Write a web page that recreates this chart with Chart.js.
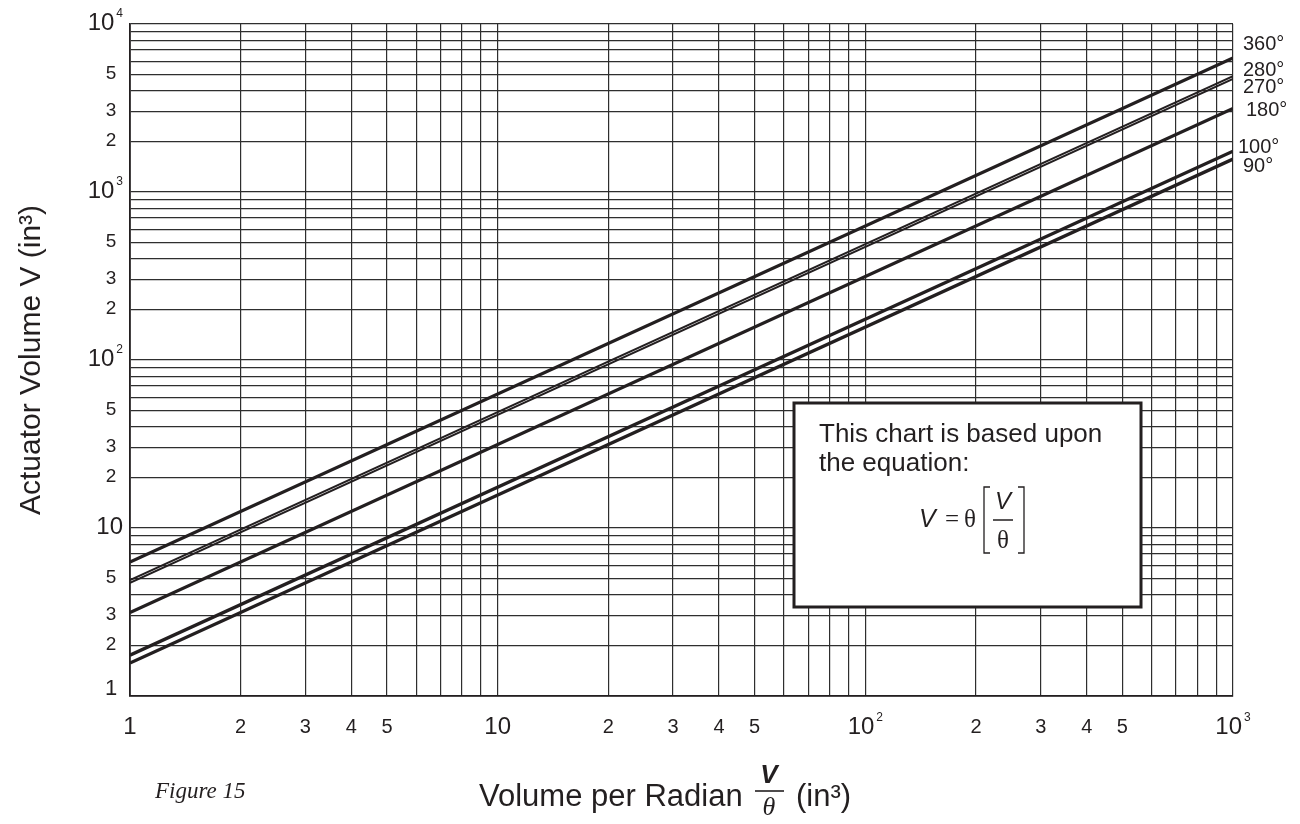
<!DOCTYPE html>
<html>
<head>
<meta charset="utf-8">
<title>Actuator Volume vs Volume per Radian</title>
<script src="https://cdn.jsdelivr.net/npm/chart.js@4.4.1/dist/chart.umd.min.js"></script>
<style>
  html, body { margin: 0; padding: 0; background: #fff; }
  #wrap { width: 1300px; height: 824px; }
</style>
</head>
<body>
<div id="wrap"><canvas id="volumeChart" width="1300" height="824"></canvas></div>
<script>
// Actuator volume V read at V/θ = 1 and V/θ = 1000 for each rotation angle
const angleLabels = ['360°', '280°', '270°', '180°', '100°', '90°'];
const xValues = [1, 1000];
const v360 = [6.28, 6280];
const v280 = [4.89, 4890];
const v270 = [4.71, 4710];
const v180 = [3.14, 3140];
const v100 = [1.75, 1750];
const v90 = [1.57, 1570];

// grid lines
const xTicks = [1, 2, 3, 4, 5, 6, 7, 8, 9, 10, 20, 30, 40, 50, 60, 70, 80, 90,
    100, 200, 300, 400, 500, 600, 700, 800, 900, 1000];
const yTicks = [1, 2, 3, 4, 5, 6, 7, 8, 9, 10, 20, 30, 40, 50, 60, 70, 80, 90,
    100, 200, 300, 400, 500, 600, 700, 800, 900, 1000, 2000, 3000, 4000, 5000,
    6000, 7000, 8000, 9000, 10000];

// tick labels ("10^2" = ten with superscript 2)
const xLabelValues = [1, 2, 3, 4, 5, 10, 20, 30, 40, 50, 100, 200, 300, 400, 500, 1000];
const xLabelTexts = ['1', '2', '3', '4', '5', '10', '2', '3', '4', '5', '10^2', '2', '3', '4', '5', '10^3'];
const yLabelValues = [1, 2, 3, 5, 10, 20, 30, 50, 100, 200, 300, 500, 1000, 2000, 3000, 5000, 10000];
const yLabelTexts = ['1', '2', '3', '5', '10', '2', '3', '5', '10^2', '2', '3', '5', '10^3', '2', '3', '5', '10^4'];

const series = [v360, v280, v270, v180, v100, v90];
const ink = '#231f20';
const gridInk = '#2e2e2e';
const SANS = '"Liberation Sans", Arial, sans-serif';
const SERIF = '"Liberation Serif", "Times New Roman", serif';

// label nudges so the angle labels don't collide at the right edge
const labelNudgeY = [-13, -6, 9, 2, -4, 7];
const labelNudgeX = [10, 10, 10, 13, 5, 10];

function makeDataset(vals, i) {
    const thin = i === 1 || i === 2; // 280° and 270° nearly overlap
    return {
        label: angleLabels[i],
        data: xValues.map((x, k) => ({ x: x, y: vals[k] })),
        borderColor: ink,
        borderWidth: thin ? 2 : 3.3,
        pointRadius: 0,
        fill: false,
        tension: 0
    };
}

// draws "10^3" style labels; returns nothing
function drawPowerLabel(ctx, text, x, y, align, size) {
    const parts = text.split('^');
    const base = parts[0];
    const sup = parts[1] || '';
    ctx.font = size + 'px ' + SANS;
    const wBase = ctx.measureText(base).width;
    ctx.font = Math.round(size * 0.5) + 'px ' + SANS;
    const wSup = sup ? ctx.measureText(sup).width + 2 : 0;
    const total = wBase + wSup;
    let start = x;
    if (align === 'center') start = x - total / 2;
    if (align === 'right') start = x - total;
    ctx.textAlign = 'left';
    ctx.textBaseline = 'middle';
    ctx.font = size + 'px ' + SANS;
    ctx.fillText(base, start, y);
    if (sup) {
        ctx.font = Math.round(size * 0.5) + 'px ' + SANS;
        ctx.fillText(sup, start + wBase + 2, y - size * 0.38);
    }
}

const annotationPlugin = {
    id: 'annotations',
    afterDatasetsDraw(chart) {
        const ctx = chart.ctx;
        const xs = chart.scales.x;
        const ys = chart.scales.y;
        const area = chart.chartArea;
        ctx.save();
        ctx.fillStyle = ink;

        // x tick labels
        xLabelValues.forEach((v, i) => {
            const t = xLabelTexts[i];
            const big = t === '1' || t.indexOf('10') === 0;
            drawPowerLabel(ctx, t, xs.getPixelForValue(v), area.bottom + 31, 'center', big ? 24 : 20);
        });

        // y tick labels
        yLabelValues.forEach((v, i) => {
            const t = yLabelTexts[i];
            const y = Math.min(ys.getPixelForValue(v) - 1, area.bottom - 7);
            if (t.indexOf('10') === 0) {
                drawPowerLabel(ctx, t, area.left - 7, y, 'right', 24);
            } else {
                drawPowerLabel(ctx, t, area.left - 19, y, 'center', t === '1' ? 22 : 19);
            }
        });

        // angle labels at right end of lines
        ctx.font = '20px ' + SANS;
        ctx.textAlign = 'left';
        ctx.textBaseline = 'middle';
        series.forEach((vals, i) => {
            const y = ys.getPixelForValue(vals[vals.length - 1]) + labelNudgeY[i];
            ctx.fillText(angleLabels[i], area.right + labelNudgeX[i], y);
        });

        // equation box
        const bx = 794, by = 403, bw = 347, bh = 204;
        ctx.fillStyle = '#fff';
        ctx.fillRect(bx, by, bw, bh);
        ctx.strokeStyle = ink;
        ctx.lineWidth = 3;
        ctx.strokeRect(bx, by, bw, bh);
        ctx.fillStyle = ink;
        ctx.font = '26px ' + SANS;
        ctx.textAlign = 'left';
        ctx.textBaseline = 'alphabetic';
        ctx.fillText('This chart is based upon', bx + 25, by + 39);
        ctx.fillText('the equation:', bx + 25, by + 68);

        // V = θ[V/θ]
        const ey = 527;
        ctx.font = 'italic 25px ' + SANS;
        ctx.fillText('V', 919, ey);
        ctx.font = '25px ' + SERIF;
        ctx.fillText('=', 945, ey);
        ctx.fillText('θ', 964, ey);
        ctx.textAlign = 'center';
        ctx.font = 'italic 24px ' + SANS;
        ctx.fillText('V', 1003, 509);
        ctx.font = '25px ' + SERIF;
        ctx.fillText('θ', 1003, 548);
        ctx.lineWidth = 1.3;
        ctx.beginPath();
        ctx.moveTo(993, 520); ctx.lineTo(1013, 520);
        // brackets
        ctx.moveTo(990, 487); ctx.lineTo(984, 487); ctx.lineTo(984, 553); ctx.lineTo(990, 553);
        ctx.moveTo(1018, 487); ctx.lineTo(1024, 487); ctx.lineTo(1024, 553); ctx.lineTo(1018, 553);
        ctx.stroke();

        // y axis title
        ctx.save();
        ctx.translate(32, (area.top + area.bottom) / 2);
        ctx.rotate(-Math.PI / 2);
        ctx.textAlign = 'center';
        ctx.textBaseline = 'middle';
        ctx.font = '30px ' + SANS;
        ctx.fillText('Actuator Volume V (in³)', 0, 0);
        ctx.restore();

        // x axis title with V/θ fraction
        ctx.textAlign = 'left';
        ctx.textBaseline = 'alphabetic';
        ctx.font = '31px ' + SANS;
        ctx.fillText('Volume per Radian', 479, 806);
        ctx.fillText('(in³)', 796, 806);
        ctx.textAlign = 'center';
        ctx.font = 'italic bold 26px ' + SANS;
        ctx.fillText('V', 769, 783);
        ctx.font = 'italic 26px ' + SERIF;
        ctx.fillText('θ', 769, 815);
        ctx.lineWidth = 1.6;
        ctx.beginPath();
        ctx.moveTo(755, 791); ctx.lineTo(784, 791);
        ctx.stroke();

        // caption
        ctx.textAlign = 'left';
        ctx.font = 'italic 23px ' + SERIF;
        ctx.fillText('Figure 15', 155, 798);
        ctx.restore();
    }
};

function initVolumeChart() {
    const ctx = document.getElementById('volumeChart').getContext('2d');
    new Chart(ctx, {
        type: 'line',
        data: { datasets: series.map(makeDataset) },
        options: {
            responsive: false,
            animation: false,
            layout: { padding: { left: 130, top: 24, right: 67, bottom: 128 } },
            plugins: { legend: { display: false }, tooltip: { enabled: false } },
            scales: {
                x: {
                    type: 'logarithmic',
                    min: 1,
                    max: 1000,
                    afterBuildTicks: scale => { scale.ticks = xTicks.map(v => ({ value: v })); },
                    ticks: { display: false },
                    grid: { color: gridInk, lineWidth: 1.2, drawTicks: false },
                    border: { display: true, color: ink, width: 1.8 }
                },
                y: {
                    type: 'logarithmic',
                    min: 1,
                    max: 10000,
                    afterBuildTicks: scale => { scale.ticks = yTicks.map(v => ({ value: v })); },
                    ticks: { display: false },
                    grid: { color: gridInk, lineWidth: 1.2, drawTicks: false },
                    border: { display: true, color: ink, width: 1.8 }
                }
            }
        },
        plugins: [annotationPlugin]
    });
}

document.addEventListener('DOMContentLoaded', initVolumeChart);
</script>
</body>
</html>
